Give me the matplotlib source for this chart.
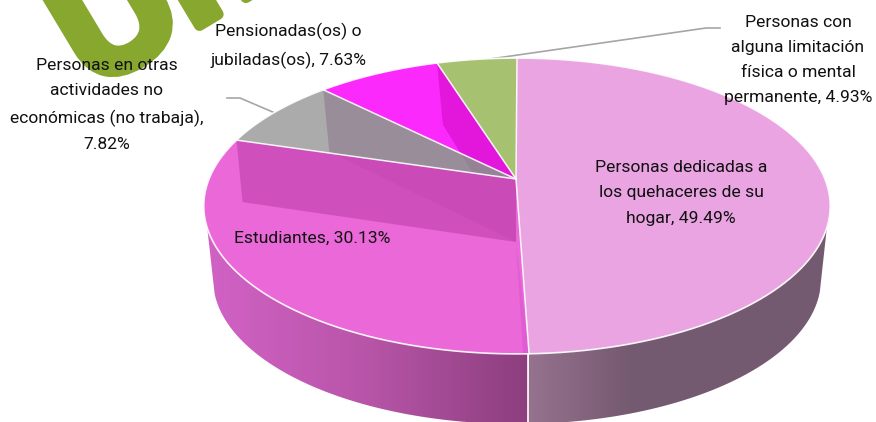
import numpy as np
import matplotlib
matplotlib.use('Agg')
import matplotlib.pyplot as plt
import matplotlib.patheffects as pe
from matplotlib.colors import LinearSegmentedColormap
from matplotlib.patches import Polygon

plt.rcParams['font.family'] = ['Roboto', 'Liberation Sans', 'DejaVu Sans']

# === Datos ===
categorias = ['Personas dedicadas a\nlos quehaceres de su\nhogar',
              'Estudiantes',
              'Personas en otras\nactividades no\neconómicas (no trabaja)',
              'Pensionadas(os) o\njubiladas(os)',
              'Personas con\nalguna limitación\nfísica o mental\npermanente']
valores = [49.49, 30.13, 7.82, 7.63, 4.93]
colores = ['#EAA4E2', '#EA68D8', '#ABABAB', '#FB29FB', '#A6C16F']
colores_int = [None, '#CF50BD', '#9A8D9A', '#E316DC', None]
pos_etiquetas = [(681, 193), (312, 238), (107, 105), (288, 46), (798, 60)]

# geometria do disco (pixels)
CX, CY, A, B, K = 517, 179, 308, 143, 0.1824
CAIDA_X, CAIDA_Y = 6, 62


def borde(t):
    # ponto da borda superior com perspectiva, t em graus a partir do topo
    t = np.radians(t)
    d = 1 + K * np.cos(t)
    return np.column_stack([CX + A * np.sin(t) / d, CY - B * np.cos(t) / d])


def elipse_inf(t):
    t = np.radians(t)
    return np.column_stack([517 + 304 * np.sin(t), 279 - 145 * np.cos(t)])


def pared(ax, ang_sup, ang_inf, cmap, x0, x1):
    # parede lateral com gradiente horizontal
    sup = borde(np.linspace(ang_sup[0], ang_sup[1], 100))
    inf = elipse_inf(np.linspace(ang_inf[0], ang_inf[1], 100))
    poli = Polygon(np.vstack([sup, inf[::-1]]), closed=True, transform=ax.transData,
                   fc='none', ec='none')
    ax.add_patch(poli)
    grad = np.linspace(0, 1, 256).reshape(1, -1)
    im = ax.imshow(grad, extent=[x0, x1, 440, 180], cmap=cmap, aspect='auto', zorder=2)
    im.set_clip_path(poli)


fig = plt.figure(figsize=(8.76, 4.22), dpi=100)
ax = fig.add_axes([0, 0, 1, 1])
ax.set_xlim(0, 876)
ax.set_ylim(422, 0)
ax.axis('off')

# marca de agua verde
ax.text(92, 90, 'Uni', family='Liberation Sans', fontsize=114, fontweight='bold', color='#87A72F',
        rotation=31, rotation_mode='anchor', ha='left', va='baseline', zorder=1, clip_on=True,
        path_effects=[pe.withStroke(linewidth=8, foreground='#87A72F')])

acum = np.concatenate([[0], np.cumsum(valores)]) * 3.6 * 100 / sum(valores)

# paredes
izq = LinearSegmentedColormap.from_list('izq', ['#D262C6', '#B855A8', '#8C3F7E'])
der = LinearSegmentedColormap.from_list('der', ['#96728F', '#755A70', '#745A70', '#745A70'])
fin = acum[1]
pared(ax, (fin, 262), (178, 264), izq, 205, 528)
pared(ax, (98, fin), (95, 178), der, 528, 830)

ax.plot([528, 528], [354, 422], color='white', lw=1.2, zorder=3)

apice = np.array([[CX - 1, CY]])
caida = np.array([CAIDA_X, CAIDA_Y])
apice_c = apice + np.array([0, 63])

# fatias e paredes internas vistas por transparencia
fatias = []
for i, v in enumerate(valores):
    arco = borde(np.linspace(acum[i], acum[i + 1], 120))
    fatia = Polygon(np.vstack([apice, arco]), closed=True, fc=colores[i], ec='none', zorder=4)
    ax.add_patch(fatia)
    fatias.append(fatia)
    if colores_int[i]:
        p0 = arco[-1]
        interna = Polygon(np.vstack([apice, [p0], [p0 + caida], apice_c]), closed=True,
                          fc=colores_int[i], ec='none', zorder=5)
        ax.add_patch(interna)
        interna.set_clip_path(fatia)

# sombras suaves das paredes das outras fatias
p = borde(np.array([acum[3]]))[0]
sombra = Polygon(np.vstack([apice, [p], [p + caida], apice_c]), closed=True,
                 fc='#C040A8', alpha=0.28, ec='none', zorder=6)
ax.add_patch(sombra)
sombra.set_clip_path(fatias[1])
p = borde(np.array([acum[4]]))[0]
sombra2 = Polygon(np.vstack([apice, [p], [p + caida], apice_c]), closed=True,
                  fc='#8A6A90', alpha=0.3, ec='none', zorder=6)
ax.add_patch(sombra2)
sombra2.set_clip_path(fatias[2])
p = borde(np.array([acum[1]]))[0]
franja = Polygon(np.vstack([apice_c, [p], [p + (-6, 0)]]), closed=True,
                 fc='#E05CD2', ec='none', zorder=5)
ax.add_patch(franja)
franja.set_clip_path(fatias[1])

# lineas blancas entre fatias
for a0 in acum[:-1]:
    ax.plot(*np.vstack([apice, borde(np.array([a0]))]).T, color='white', lw=1.1, alpha=0.9, zorder=7)
ax.plot(*borde(np.linspace(0, 360, 400)).T, color='white', lw=1.2, alpha=0.9, zorder=7)

# lineas guia
ax.plot([227, 240, 275], [98, 98, 113], color='#A6A6A6', lw=1.2, zorder=3)
ax.plot([720, 706, 476], [28, 28, 61], color='#A6A6A6', lw=1.2, zorder=3)

# etiquetas
for cat, v, (x, y) in zip(categorias, valores, pos_etiquetas):
    sep = ',\n' if cat.startswith('Personas en') else ', '
    ax.text(x, y, f'{cat}{sep}{v:.2f}%', ha='center', va='center', fontsize=12.6,
            color='#111111', linespacing=1.85, zorder=8)

fig.savefig('out.png', dpi=100)
plt.close(fig)
